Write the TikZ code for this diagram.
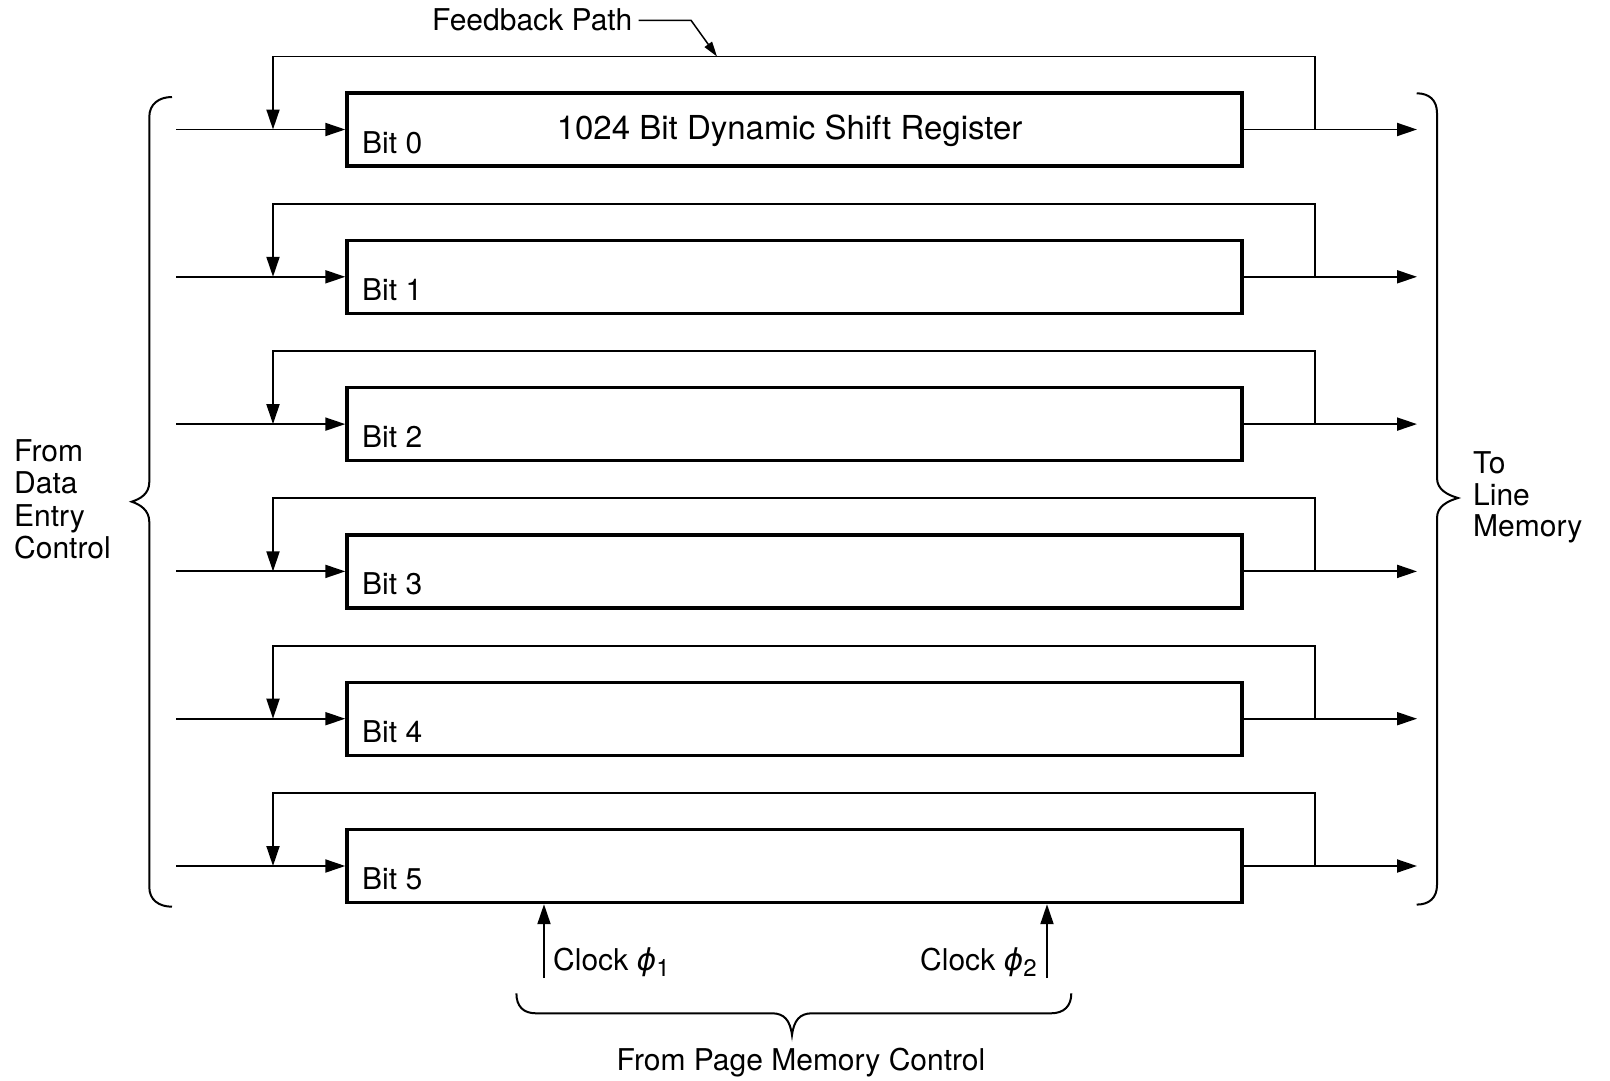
\documentclass[tikz,border=0pt]{standalone}
\usepackage{fontspec}
\setmainfont{TeX Gyre Heros}
\newfontfamily\phifont{DejaVu Sans}
\usetikzlibrary{arrows.meta}
\newcommand{\clockphi}[1]{{\phifont\itshape ϕ}\raisebox{-6pt}{\fontsize{24}{24}\selectfont #1}}
\begin{document}
\begin{tikzpicture}[x=1pt,y=-1pt,
  regbox/.style={draw, line width=3.4pt, minimum width=895pt, minimum height=73pt, inner sep=0pt},
  conn/.style={line width=1.9pt},
  arr/.style={conn, -{Triangle[length=20pt,width=13pt]}},
  ptrarr/.style={line width=1.5pt, -{Triangle[length=15pt,width=9pt]}},
  bracestyle/.style={line width=2pt},
  lbl/.style={font=\fontsize{30}{32.3}\selectfont, inner sep=0pt},
  ttl/.style={font=\fontsize{33}{36}\selectfont, inner sep=0pt},
]
\useasboundingbox (0,0) rectangle (1610,1081);
\foreach \i in {0,...,5} {
  \pgfmathsetmacro\yy{129.5+147.3*\i}
  \pgfmathsetmacro\yt{\yy-73}
  \pgfmathsetmacro\yb{\yy+23.5}
  \node[regbox] (b\i) at (794.5,\yy) {};
  \node[lbl, anchor=base west] (bl\i) at (362,\yb) {Bit \i};
  \coordinate (in\i) at (176,\yy);
  \coordinate (fj\i) at (273,\yy);
  \coordinate (fr\i) at (1315,\yy);
  \coordinate (ft\i) at (1315,\yt);
  \coordinate (fl\i) at (273,\yt);
  \coordinate (out\i) at (1417,\yy);
  \draw[arr] (in\i) -- (b\i.west);
  \draw[arr] (b\i.east) -- (out\i);
  \draw[arr] (fr\i) -- (ft\i) -- (fl\i) -- (fj\i);
}
\node[ttl, anchor=base] (title) at (789.6,139.5) {1024 Bit Dynamic Shift Register};
% feedback path pointer
\node[lbl, anchor=base west, inner xsep=6pt] (fbp) at (426,31) {Feedback Path};
\coordinate (fbk) at (691,20);
\coordinate (fbt) at (717,56.5);
\draw[ptrarr] (fbp.east) -- (fbp.east -| fbk) -- (fbt);
% clocks
\coordinate (ck1) at (544,978);
\coordinate (ck2) at (1047,978);
\draw[arr] (ck1) -- (ck1 |- b5.south);
\draw[arr] (ck2) -- (ck2 |- b5.south);
\node[lbl, anchor=base west] (cl1) at (553,970) {Clock \clockphi{1}};
\node[lbl, anchor=base east] (cl2) at (1037,970) {Clock \clockphi{2}};
% braces
\draw[bracestyle] (172,97) .. controls (159,97) and (149.3,104) .. (149.3,117) -- (149.3,482)
  .. controls (149.3,494) and (140,499) .. (131.7,501.7)
  .. controls (140,504.5) and (149.3,510) .. (149.3,522) -- (149.3,887)
  .. controls (149.3,900) and (159,906.7) .. (172,906.7);
\draw[bracestyle] (1416.7,93.3) .. controls (1429,93.3) and (1437,100) .. (1437,113) -- (1437,478)
  .. controls (1437,490) and (1448,495) .. (1458,498)
  .. controls (1448,501) and (1437,506) .. (1437,518) -- (1437,885)
  .. controls (1437,898) and (1429,904.6) .. (1416.7,904.6);
\draw[bracestyle] (516.4,993.3) .. controls (516.4,1006) and (523,1013.3) .. (536,1013.3) -- (772,1013.3)
  .. controls (784,1013.3) and (790,1020) .. (792,1035)
  .. controls (794,1020) and (800,1013.3) .. (812,1013.3) -- (1051,1013.3)
  .. controls (1064,1013.3) and (1071.3,1006) .. (1071.3,993.3);
% side texts
\node[lbl, anchor=north west, align=left] (src) at (14,439.5) {From\\Data\\Entry\\Control};
\node[lbl, anchor=north west, align=left, font=\fontsize{30}{31.5}\selectfont] (dst) at (1473,451.5) {To\\Line\\Memory};
\node[lbl, anchor=base] (pmc) at (801,1070) {From Page Memory Control};
\end{tikzpicture}
\end{document}
